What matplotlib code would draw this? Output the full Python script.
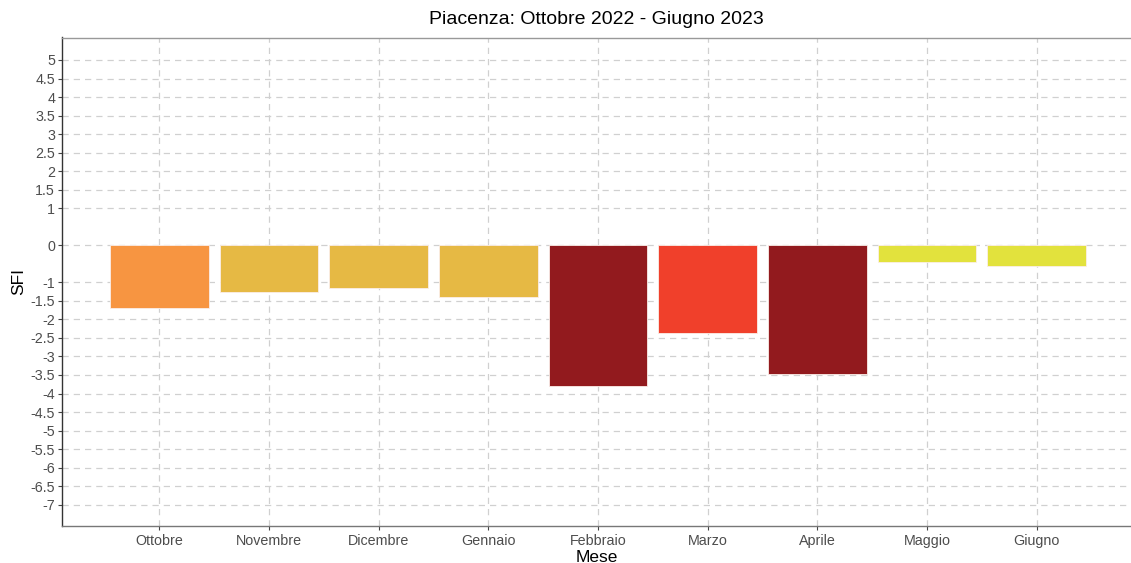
import matplotlib
matplotlib.use("Agg")
import matplotlib.pyplot as plt

months = ["Ottobre", "Novembre", "Dicembre", "Gennaio", "Febbraio",
          "Marzo", "Aprile", "Maggio", "Giugno"]
sfi = [-1.69, -1.27, -1.14, -1.40, -3.81, -2.36, -3.46, -0.46, -0.55]
colors = ["#F79541", "#E6B944", "#E6B944", "#E6B944", "#921A1E",
          "#F0402B", "#921A1E", "#E2E23D", "#E2E23D"]
yticks = [5, 4.5, 4, 3.5, 3, 2.5, 2, 1.5, 1, 0, -1, -1.5, -2, -2.5, -3,
          -3.5, -4, -4.5, -5, -5.5, -6, -6.5, -7]
ytick_labels = ["5", "4.5", "4", "3.5", "3", "2.5", "2", "1.5", "1", "0",
                "-1", "-1.5", "-2", "-2.5", "-3", "-3.5", "-4", "-4.5", "-5",
                "-5.5", "-6", "-6.5", "-7"]

plt.rcParams['font.family'] = ['Liberation Sans', 'DejaVu Sans']

fig = plt.figure(figsize=(11.31, 5.63), dpi=100)
W, H = 1131, 563
ax = fig.add_axes([62 / W, 1 - 526 / H, (W - 62) / W, (526 - 37.5) / H])

x = list(range(len(months)))
ax.bar(x, sfi, width=0.9, color=colors, edgecolor="#fbeee8", linewidth=0.6, zorder=3)

ax.set_xlim(-0.888, 8.86)
ax.set_ylim(-7.575, 5.607)
ax.set_xticks(x)
ax.set_xticklabels(months)
ax.set_yticks(yticks)
ax.set_yticklabels(ytick_labels)

ax.grid(True, which="major", color="#d0d0d0", linestyle=(0, (5, 4)), linewidth=0.9, zorder=0)
ax.set_axisbelow(True)

ax.tick_params(axis="both", colors="#444444", labelsize=10.3, length=3, width=0.8)
ax.tick_params(axis="y", pad=2)
ax.tick_params(axis="x", pad=3)
for lab in ax.get_xticklabels() + ax.get_yticklabels():
    lab.set_color("#4d4d4d")

ax.spines["right"].set_visible(False)
ax.spines["left"].set_color("#333333")
ax.spines["bottom"].set_color("#777777")
ax.spines["top"].set_color("#999999")
for s in ax.spines.values():
    s.set_linewidth(1.0)

ax.set_xlabel("Mese", fontsize=12.5, labelpad=1)
ax.set_ylabel("SFI", fontsize=12.5, labelpad=3)
fig.text((62 + W) / 2 / W, 1 - 20 / H, "Piacenza: Ottobre 2022 - Giugno 2023",
         ha="center", va="center", fontsize=14)

fig.savefig("out.png", dpi=100)
